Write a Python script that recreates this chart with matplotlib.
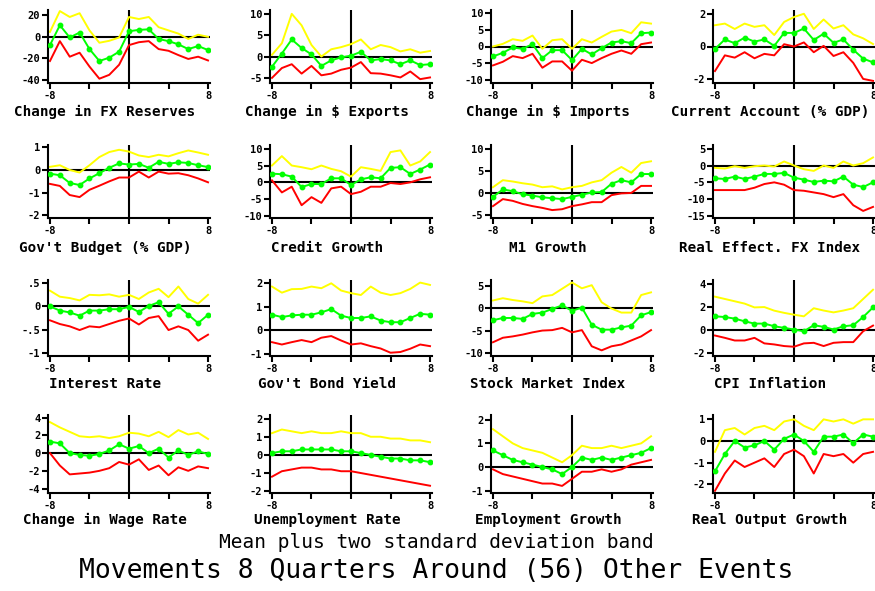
import numpy as np
import matplotlib
matplotlib.use('Agg')
import matplotlib.pyplot as plt

quarters = list(range(-8, 9))

# upper band / mean / lower band per indicator
fx_res_up = [4.6, 24, 18.5, 22, 6, -5.5, -3.7, -0.6, 18.5, 16.6, 18.5, 9, 6, 3, -2, 2, 0]
fx_res_mean = [-7.7, 10.8, -0.6, 4, -11.4, -22.5, -19.4, -13.8, 5.2, 6.5, 7, -2, -4, -7, -11.4, -8.6, -12.3]
fx_res_lo = [-22.5, -4, -18.5, -14.8, -27.7, -39, -35.4, -26, -7.7, -5, -4, -11.4, -13, -17, -20.6, -18.5, -22]

exp_up = [0.4, 3.1, 10, 7.3, 2.7, 0, 1.7, 2.2, 2.9, 4, 1.7, 2.7, 2.2, 1.2, 1.7, 0.9, 1.3]
exp_mean = [-2.4, 0.7, 4, 2, 0.5, -2.2, -0.9, -0.2, 0.2, 1.1, -0.9, -0.6, -0.9, -1.8, -0.9, -2, -1.8]
exp_lo = [-5, -2.7, -1.8, -4, -2.2, -4.4, -4, -3.1, -2.6, -1.3, -3.9, -4, -4.4, -4.9, -3.5, -5.3, -4.9]

imp_up = [0, 0.8, 2.2, 1.7, 3.3, -0.7, 1.9, 2.2, -0.7, 2.2, 1.2, 2.9, 4.5, 5, 4, 7.3, 6.9]
imp_mean = [-3, -1.9, -0.3, -0.7, 0.7, -3.5, -1.1, -1.1, -4.1, -0.7, -2.4, -0.5, 1.2, 1.6, 1, 4, 4.2]
imp_lo = [-5.7, -4.6, -2.9, -3.5, -2.2, -6.4, -4.5, -4.5, -7.3, -4, -5, -3.5, -2.2, -1.2, -2.2, 0.7, 1.2]

ca_up = [1.3, 1.4, 1.07, 1.4, 1.2, 1.3, 0.7, 1.5, 1.8, 2.0, 1.07, 1.65, 1.1, 1.3, 0.74, 0.5, 0.15]
ca_mean = [-0.15, 0.43, 0.2, 0.54, 0.3, 0.43, 0.04, 0.83, 0.83, 1.1, 0.4, 0.78, 0.23, 0.43, -0.2, -0.74, -0.97]
ca_lo = [-1.5, -0.54, -0.68, -0.35, -0.72, -0.45, -0.54, 0.14, 0, 0.25, -0.35, 0.04, -0.58, -0.35, -1.0, -1.98, -2.1]

bud_up = [0.14, 0.21, 0, -0.11, 0.21, 0.57, 0.79, 0.89, 0.81, 0.64, 0.57, 0.67, 0.6, 0.74, 0.86, 0.77, 0.67]
bud_mean = [-0.16, -0.23, -0.57, -0.66, -0.37, -0.14, 0.1, 0.29, 0.24, 0.27, 0.1, 0.36, 0.27, 0.34, 0.31, 0.21, 0.13]
bud_lo = [-0.61, -0.7, -1.1, -1.19, -0.87, -0.69, -0.5, -0.33, -0.33, -0.07, -0.33, -0.07, -0.16, -0.14, -0.23, -0.37, -0.54]

cred_up = [5, 7.8, 5, 4.5, 3.9, 5, 4, 3.3, 1.7, 4.5, 4, 3.4, 9, 9.5, 5, 6.2, 9]
cred_mean = [2.6, 2.4, 1.7, -1.4, -0.5, -0.5, 1.2, 1.2, -0.8, 0.9, 1.5, 1.2, 4.3, 4.5, 2.5, 3.8, 5.3]
cred_lo = [0.6, -3, -1.3, -6.8, -4.4, -6.1, -1.8, -1.3, -3.5, -2.8, -1.3, -1.3, -0.2, -0.5, 0, 0.9, 1.5]

m1_up = [1.3, 2.9, 2.6, 2.2, 1.9, 1.3, 1.5, 0.8, 1.3, 1.6, 2.4, 2.9, 4.6, 5.9, 4.6, 6.8, 7.2]
m1_mean = [-0.9, 0.8, 0.4, -0.3, -0.6, -1, -1.2, -1.4, -0.9, -0.4, 0.1, 0.2, 2.1, 2.9, 2.4, 4.3, 4.3]
m1_lo = [-3, -1.4, -1.8, -2.5, -3, -3.4, -3.9, -3.7, -3, -2.6, -2.1, -2.1, -0.5, -0.1, 0, 1.6, 1.6]

reer_up = [-0.7, -0.9, -0.2, -0.7, -0.2, 0, -0.3, 1.2, 0, -1.1, -1.6, 0, -0.7, 1.2, 0, 0.7, 2.4]
reer_mean = [-3.8, -4, -3.3, -4, -3.3, -2.5, -2.5, -2.2, -3.6, -4.2, -4.9, -4.5, -4.7, -3.3, -5.7, -6.4, -5]
reer_lo = [-7.3, -7.3, -7.3, -7.3, -6.6, -5.5, -5, -5.7, -7.3, -7.5, -8, -8.5, -9.4, -8.5, -11.8, -13.5, -12.3]

rate_up = [0.34, 0.21, 0.18, 0.13, 0.25, 0.24, 0.26, 0.21, 0.25, 0.16, 0.3, 0.38, 0.2, 0.43, 0.16, 0.06, 0.25]
rate_mean = [0, -0.09, -0.13, -0.2, -0.09, -0.09, -0.06, -0.06, -0.01, -0.12, 0.01, 0.09, -0.16, 0, -0.18, -0.36, -0.18]
rate_lo = [-0.3, -0.38, -0.43, -0.51, -0.43, -0.45, -0.38, -0.31, -0.26, -0.39, -0.25, -0.21, -0.51, -0.43, -0.51, -0.74, -0.61]

bond_up = [1.86, 1.6, 1.75, 1.76, 1.86, 1.79, 2.0, 1.69, 1.58, 1.5, 1.86, 1.6, 1.5, 1.58, 1.76, 2.03, 1.93]
bond_mean = [0.66, 0.56, 0.63, 0.66, 0.66, 0.76, 0.9, 0.62, 0.52, 0.52, 0.59, 0.41, 0.34, 0.34, 0.52, 0.7, 0.66]
bond_lo = [-0.51, -0.61, -0.51, -0.42, -0.51, -0.32, -0.25, -0.44, -0.61, -0.56, -0.68, -0.78, -0.96, -0.93, -0.79, -0.61, -0.68]

stock_up = [1.7, 2.2, 1.8, 1.5, 1.1, 2.6, 2.9, 4.3, 5.7, 4.4, 5.1, 1.3, -0.1, -1, -1, 2.9, 3.5]
stock_mean = [-2.7, -2.2, -2.2, -2.4, -1.3, -1, -0.2, 0.6, -0.6, 0.1, -3.7, -4.8, -4.8, -4.3, -3.9, -1.6, -0.9]
stock_lo = [-7.6, -6.6, -6.3, -5.9, -5.4, -5, -4.9, -4.4, -5.4, -4.9, -8.5, -9.4, -8.5, -8.1, -7.2, -6.3, -4.9]

cpi_up = [2.9, 2.7, 2.5, 2.3, 1.97, 2, 1.69, 1.5, 1.34, 1.2, 1.9, 1.7, 1.54, 1.7, 1.9, 2.7, 3.5]
cpi_mean = [1.2, 1.14, 1, 0.77, 0.57, 0.57, 0.34, 0.2, 0.06, -0.09, 0.43, 0.29, 0.06, 0.34, 0.43, 1.14, 1.97]
cpi_lo = [-0.46, -0.66, -0.89, -0.89, -0.66, -1.14, -1.23, -1.37, -1.43, -1.14, -1.09, -1.37, -1.09, -1.03, -1.03, -0.09, 0.4]

wage_up = [3.5, 2.9, 2.4, 1.9, 1.8, 1.9, 1.7, 1.9, 2.3, 2.2, 1.9, 2.4, 1.8, 2.6, 2.1, 2.3, 1.6]
wage_mean = [1.3, 1.1, 0, -0.2, -0.3, -0.1, 0.3, 1, 0.5, 0.8, 0, 0.5, -0.5, 0.3, -0.2, 0.2, -0.1]
wage_lo = [0, -1.4, -2.4, -2.3, -2.2, -2, -1.7, -1, -1.3, -0.7, -1.9, -1.4, -2.5, -1.6, -2, -1.5, -1.7]

unemp_up = [1.2, 1.4, 1.3, 1.2, 1.3, 1.2, 1.2, 1.3, 1.2, 1.2, 1.0, 1.0, 0.9, 0.9, 0.8, 0.8, 0.7]
unemp_mean = [0.1, 0.2, 0.2, 0.3, 0.3, 0.3, 0.3, 0.2, 0.2, 0.1, 0, -0.1, -0.2, -0.2, -0.3, -0.3, -0.4]
unemp_lo = [-1.2, -0.9, -0.8, -0.7, -0.7, -0.8, -0.8, -0.9, -0.9, -1.0, -1.1, -1.2, -1.3, -1.4, -1.5, -1.6, -1.7]

empl_up = [1.6, 1.3, 1.0, 0.8, 0.7, 0.6, 0.4, 0.2, 0.5, 0.9, 0.8, 0.8, 0.9, 0.8, 0.9, 1.0, 1.3]
empl_mean = [0.7, 0.5, 0.3, 0.2, 0.1, 0, -0.1, -0.3, 0, 0.4, 0.3, 0.4, 0.3, 0.4, 0.5, 0.6, 0.8]
empl_lo = [-0.1, -0.3, -0.4, -0.5, -0.6, -0.7, -0.7, -0.8, -0.5, -0.2, -0.2, -0.1, -0.2, -0.1, 0.1, 0.2, 0.3]

output_up = [-0.5, 0.5, 0.6, 0.3, 0.6, 0.7, 0.5, 0.9, 1.0, 0.7, 0.5, 1.0, 0.9, 1.0, 0.8, 1.0, 1.0]
output_mean = [-1.4, -0.6, 0, -0.3, -0.2, 0, -0.4, 0.1, 0.3, 0, -0.5, 0.2, 0.2, 0.3, -0.1, 0.3, 0.2]
output_lo = [-2.3, -1.5, -0.9, -1.2, -1.0, -0.8, -1.2, -0.6, -0.4, -0.7, -1.5, -0.6, -0.7, -0.6, -1.0, -0.6, -0.5]

titles = ['Change in FX Reserves', 'Change in $ Exports', 'Change in $ Imports', 'Current Account (% GDP)',
          "Gov't Budget (% GDP)", 'Credit Growth', 'M1 Growth', 'Real Effect. FX Index',
          'Interest Rate', "Gov't Bond Yield", 'Stock Market Index', 'CPI Inflation',
          'Change in Wage Rate', 'Unemployment Rate', 'Employment Growth', 'Real Output Growth']

yticks = [[20, 0, -20, -40], [10, 5, 0, -5], [10, 5, 0, -5, -10], [2, 0, -2],
          [1, 0, -1, -2], [10, 5, 0, -5, -10], [10, 5, 0, -5], [5, 0, -5, -10, -15],
          [.5, 0, -.5, -1], [2, 1, 0, -1], [5, 0, -5, -10], [4, 2, 0, -2],
          [4, 2, 0, -2, -4], [2, 1, 0, -1, -2], [2, 1, 0, -1], [1, 0, -1, -2]]
ytick_labels = [['20', '0', '-20', '-40'], ['10', '5', '0', '-5'], ['10', '5', '0', '-5', '-10'], ['2', '0', '-2'],
                ['1', '0', '-1', '-2'], ['10', '5', '0', '-5', '-10'], ['10', '5', '0', '-5'], ['5', '0', '-5', '-10', '-15'],
                ['.5', '0', '-.5', '-1'], ['2', '1', '0', '-1'], ['5', '0', '-5', '-10'], ['4', '2', '0', '-2'],
                ['4', '2', '0', '-2', '-4'], ['2', '1', '0', '-1', '-2'], ['2', '1', '0', '-1'], ['1', '0', '-1', '-2']]

series = [(fx_res_up, fx_res_mean, fx_res_lo), (exp_up, exp_mean, exp_lo), (imp_up, imp_mean, imp_lo), (ca_up, ca_mean, ca_lo),
          (bud_up, bud_mean, bud_lo), (cred_up, cred_mean, cred_lo), (m1_up, m1_mean, m1_lo), (reer_up, reer_mean, reer_lo),
          (rate_up, rate_mean, rate_lo), (bond_up, bond_mean, bond_lo), (stock_up, stock_mean, stock_lo), (cpi_up, cpi_mean, cpi_lo),
          (wage_up, wage_mean, wage_lo), (unemp_up, unemp_mean, unemp_lo), (empl_up, empl_mean, empl_lo), (output_up, output_mean, output_lo)]

ylims = [(-43, 25), (-6.2, 10.9), (-11, 11), (-2.23, 2.23),
         (-2.11, 1.1), (-10.6, 11.1), (-5.7, 10.9), (-15.6, 6.1),
         (-1.07, 0.57), (-1.1, 2.14), (-10.66, 6.25), (-2.23, 4.34),
         (-4.5, 4.3), (-2.1, 2.2), (-1.1, 2.2), (-2.4, 1.2)]

W, H = 875, 591
fig = plt.figure(figsize=(W / 100, H / 100), dpi=100)
fig.patch.set_facecolor('white')

col_left = [48, 270, 491, 713]
row_top = [10, 145, 280, 415]
row_bottom = [83, 218, 356, 493]
title_y = [112, 248, 384, 520]
ax_w = 162

mono = 'DejaVu Sans Mono'

for i in range(16):
    r, c = divmod(i, 4)
    left, top, bottom = col_left[c], row_top[r], row_bottom[r]
    ax = fig.add_axes([left / W, 1 - bottom / H, ax_w / W, (bottom - top) / H])
    up, mean, lo = series[i]
    ax.axhline(0, color='black', lw=1.5, zorder=1)
    ax.axvline(0, color='black', lw=1.5, zorder=1)
    ax.plot(quarters, up, color='#ffff00', lw=1.4, zorder=2)
    ax.plot(quarters, lo, color='#ff0000', lw=1.4, zorder=2)
    ax.plot(quarters, mean, color='#00ff00', lw=1.4, marker='o', ms=3.2, zorder=3)
    ax.set_xlim(-8.2, 8.2)
    ax.set_ylim(*ylims[i])
    ax.set_xticks([-8, -4, 0, 4, 8])
    ax.set_xticklabels(['-8', '', '', '', '8'])
    ax.set_yticks(yticks[i])
    ax.set_yticklabels(ytick_labels[i])
    for s in ['top', 'right']:
        ax.spines[s].set_visible(False)
    for s in ['left', 'bottom']:
        ax.spines[s].set_linewidth(1.5)
    ax.tick_params(direction='out', length=4, width=1.5, pad=1.5)
    for lab in ax.get_xticklabels() + ax.get_yticklabels():
        lab.set_fontfamily(mono)
        lab.set_fontweight('bold')
        lab.set_fontsize(7.5)
    fig.text((left + ax_w / 2 - 24) / W, 1 - title_y[r] / H, titles[i],
             ha='center', va='center', family=mono, fontweight='bold', fontsize=10.3)

fig.text(436 / W, 1 - 543 / H, 'Mean plus two standard deviation band',
         ha='center', va='center', family=mono, fontsize=14)
fig.text(436 / W, 1 - 571 / H, 'Movements 8 Quarters Around (56) Other Events',
         ha='center', va='center', family=mono, fontsize=19)

fig.savefig('out.png', dpi=100, facecolor='white')
